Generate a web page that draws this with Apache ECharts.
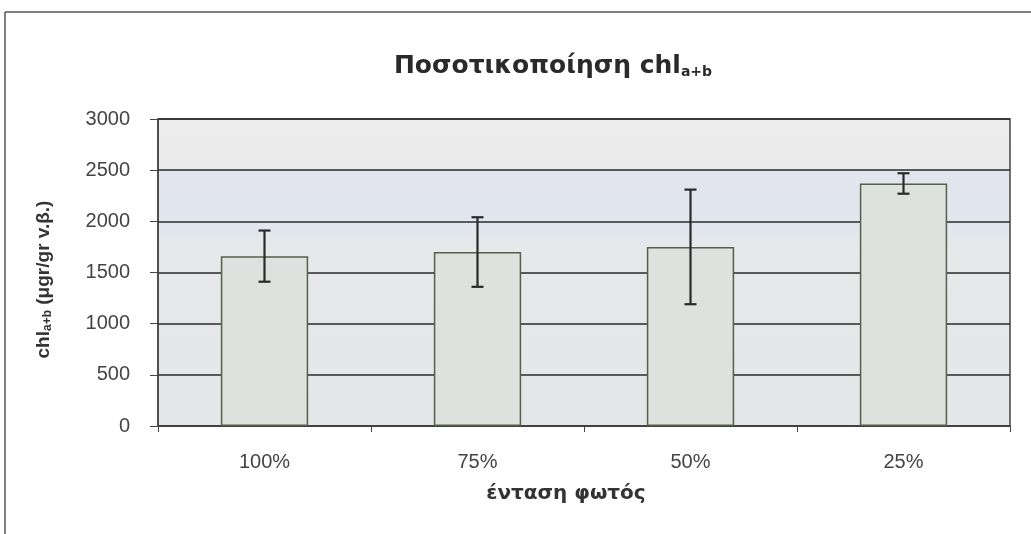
<!DOCTYPE html>
<html>
<head>
<meta charset="utf-8">
<script src="https://cdn.jsdelivr.net/npm/echarts@6/dist/echarts.min.js"></script>
<style>html,body{margin:0;padding:0;background:#fff;}#c{width:1031px;height:534px;}</style>
</head>
<body>
<div id="c"></div>
<script>
var categories = ['100%', '75%', '50%', '25%'];
var values = [1660, 1700, 1750, 2370];
var errors = [250, 340, 560, 100];
var yTicks = { min: 0, max: 3000, interval: 500 };

var chart = echarts.init(document.getElementById('c'));
var font = '"Liberation Sans", Arial, sans-serif';
var wide = '"DejaVu Sans", Verdana, sans-serif';

var errData = categories.map(function (c, i) {
  return [i, values[i] - errors[i], values[i] + errors[i]];
});

var option = {
  animation: false,
  backgroundColor: '#ffffff',
  title: {
    text: 'Ποσοτικοποίηση chl{sub|a+b}',
    left: 548,
    top: 49,
    textAlign: 'center',
    textStyle: {
      fontFamily: wide, fontSize: 25, fontWeight: 'bold', color: '#2a2a2a',
      rich: { sub: { fontFamily: wide, fontSize: 14, fontWeight: 'bold', color: '#2a2a2a', padding: [11, 0, 0, 0] } }
    }
  },
  graphic: [
    { type: 'line', shape: { x1: 5, y1: 12, x2: 1031, y2: 12 }, style: { stroke: '#555', lineWidth: 1.5 } },
    { type: 'line', shape: { x1: 5, y1: 12, x2: 5, y2: 534 }, style: { stroke: '#555', lineWidth: 1.5 } }
  ],
  grid: {
    left: 158, right: 21, top: 119, bottom: 108,
    show: true,
    borderColor: '#444', borderWidth: 1.5,
    backgroundColor: {
      type: 'linear', x: 0, y: 0, x2: 0, y2: 1,
      colorStops: [
        { offset: 0, color: '#ededed' },
        { offset: 0.165, color: '#ebebeb' },
        { offset: 0.17, color: '#e2e5ee' },
        { offset: 0.34, color: '#e1e5ee' },
        { offset: 0.42, color: '#e6e8ea' },
        { offset: 1, color: '#e4e6e8' }
      ]
    }
  },
  xAxis: {
    type: 'category',
    data: categories,
    boundaryGap: true,
    axisLine: { lineStyle: { color: '#444', width: 1.5 } },
    axisTick: { show: true, length: 6, lineStyle: { color: '#444' } },
    axisLabel: { fontFamily: font, fontSize: 20, color: '#444', margin: 26 },
    name: 'ένταση φωτός',
    nameLocation: 'middle',
    nameGap: 58,
    nameTextStyle: { fontFamily: wide, fontSize: 20, fontWeight: 'bold', color: '#333', padding: [0, 36, 0, 0] }
  },
  yAxis: {
    type: 'value',
    min: yTicks.min, max: yTicks.max, interval: yTicks.interval,
    axisLine: { show: true, lineStyle: { color: '#444', width: 1.5 } },
    axisTick: { show: true, length: 8, lineStyle: { color: '#444' } },
    axisLabel: { fontFamily: font, fontSize: 20, color: '#444', margin: 28, formatter: function (v) { return String(v); } },
    splitLine: { show: true, lineStyle: { color: '#2a2a2a', width: 1.5 } },
    name: 'chl{sub|a+b} (μgr/gr v.β.)',
    nameLocation: 'middle',
    nameRotate: 90,
    nameGap: 104,
    nameTextStyle: {
      fontFamily: font, fontSize: 19, fontWeight: 'bold', color: '#333',
      padding: [0, 14, 0, 0],
      rich: { sub: { fontFamily: font, fontSize: 12, fontWeight: 'bold', color: '#333', padding: [8, 0, 0, 0] } }
    }
  },
  series: [
    {
      type: 'bar',
      data: values,
      barWidth: '41%',
      itemStyle: { color: '#dde2df', borderColor: '#55604a', borderWidth: 1.5 },
      z: 2
    },
    {
      type: 'custom',
      data: errData,
      z: 5,
      renderItem: function (params, api) {
        var x = api.value(0);
        var lo = api.coord([x, api.value(1)]);
        var hi = api.coord([x, api.value(2)]);
        var hw = 6;
        var st = { stroke: '#2a2a2a', lineWidth: 2.2 };
        return {
          type: 'group',
          children: [
            { type: 'line', shape: { x1: hi[0], y1: hi[1], x2: lo[0], y2: lo[1] }, style: st },
            { type: 'line', shape: { x1: hi[0] - hw, y1: hi[1], x2: hi[0] + hw, y2: hi[1] }, style: st },
            { type: 'line', shape: { x1: lo[0] - hw, y1: lo[1], x2: lo[0] + hw, y2: lo[1] }, style: st }
          ]
        };
      }
    }
  ]
};
chart.setOption(option);
</script>
</body>
</html>
